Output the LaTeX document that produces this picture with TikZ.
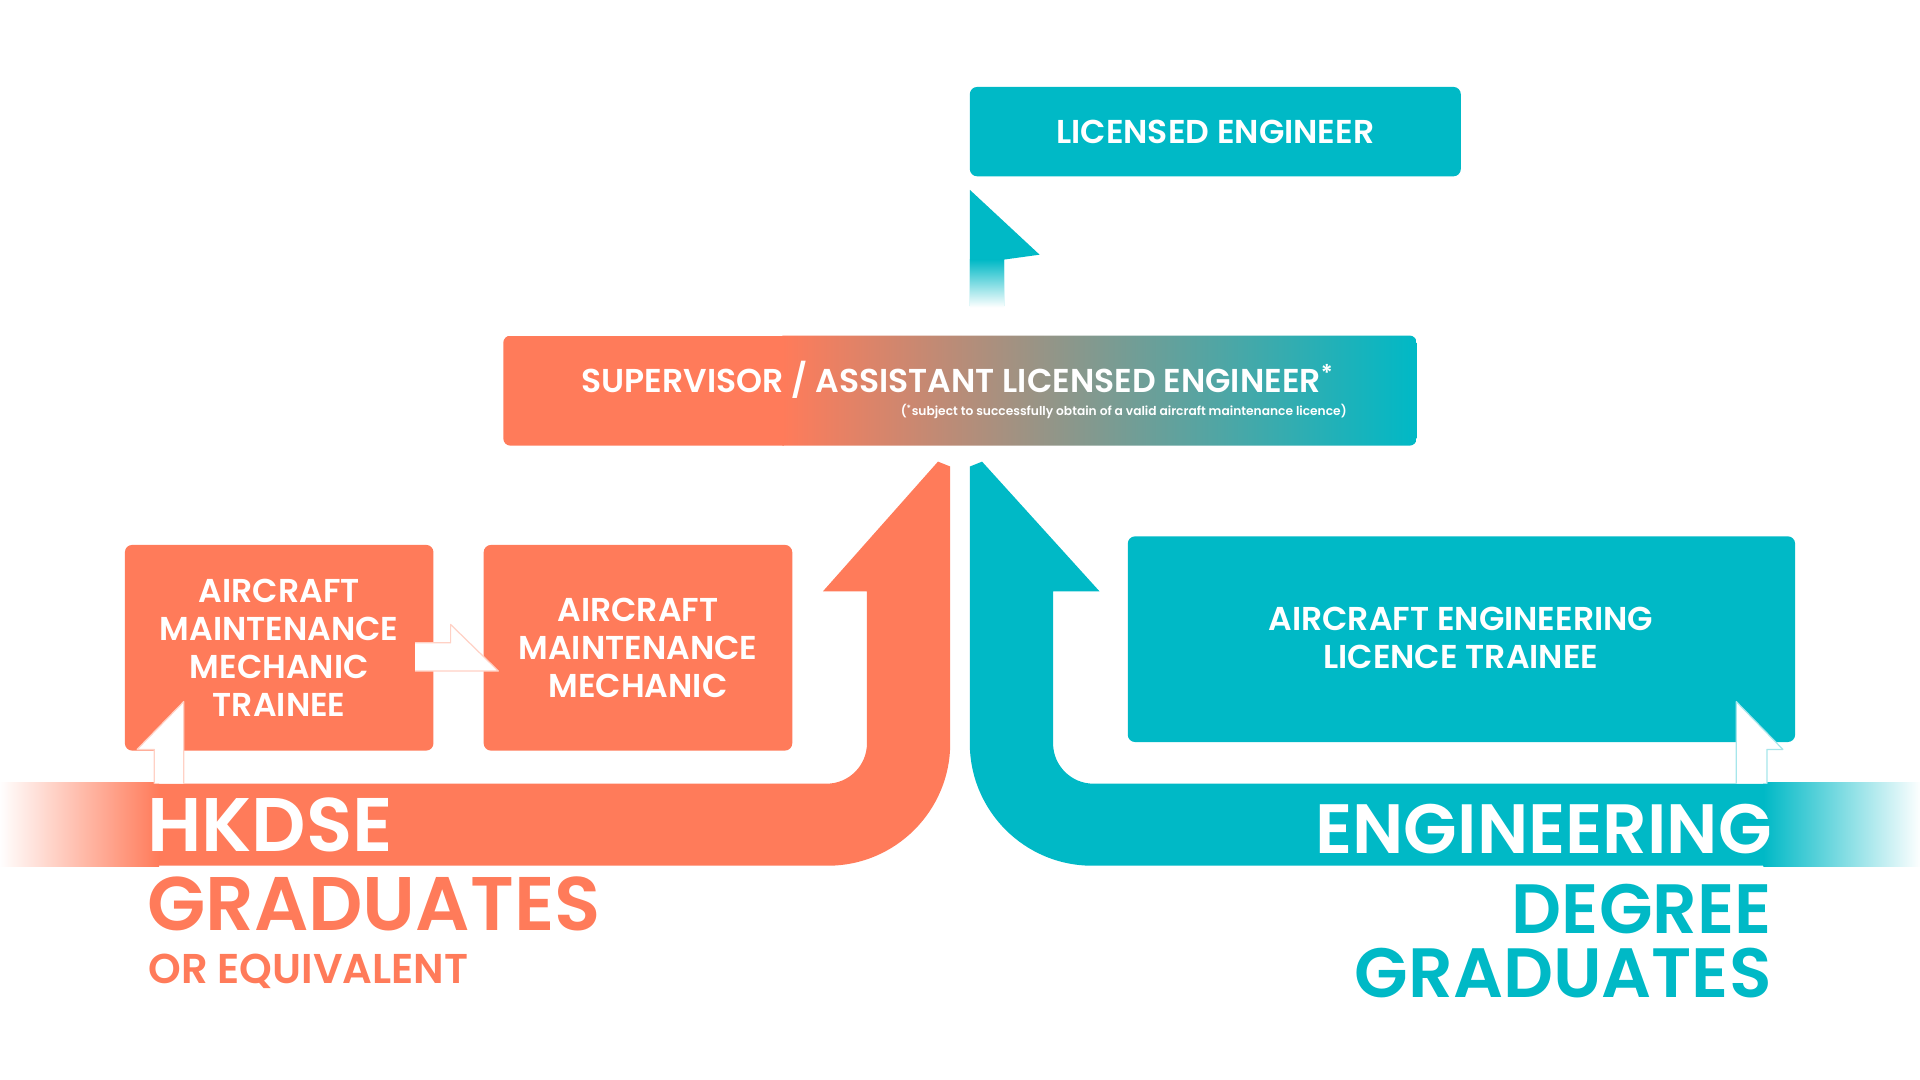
\documentclass[tikz,border=0pt]{standalone}
\usepackage{fontspec}
\usepackage{xcolor}
\usepackage{tikz}
\setmainfont{Poppins}[BoldFont={Poppins SemiBold}]
\definecolor{coral}{RGB}{255,123,90}
\definecolor{lagoon}{RGB}{0,185,198}

\begin{document}
\begin{tikzpicture}[x=1pt,y=-1pt,
    box/.style={rounded corners=6pt},
    boxtext/.style={text=white,font=\fontsize{27}{31}\selectfont\bfseries,align=center},
    big/.style={font=\fontsize{62}{62}\selectfont\bfseries},
    bigright/.style={font=\fontsize{57}{57}\selectfont\bfseries,anchor=base east,inner sep=0},
    step arrow/.style={fill=white,draw=#1!35,line width=1pt,line join=round}]
    \useasboundingbox (0,0) rectangle (1568,882);

    % Licensed engineer box and the small rising arrow
    \fill [lagoon,box] (792,71) rectangle (1193,144);
    \node[boxtext] (licensed) at (992.5,108) {LICENSED ENGINEER};
    \fill [lagoon] (792,250) -- (792,155) -- (849,208) -- (820,212) -- (820,250) -- cycle;
    \shade [top color=lagoon,bottom color=white] (792,212) rectangle (820,251);

    % Supervisor box with coral to lagoon blend
    \begin{scope}
        \clip [box] (411,274) rectangle (1157,364);
        \fill [coral] (411,274) rectangle (640,364);
        \shade [left color=coral,right color=lagoon] (639,274) rectangle (1157,364);
    \end{scope}
    \node[boxtext] (supervisor) at (782,310) {SUPERVISOR / ASSISTANT LICENSED ENGINEER\textsuperscript{*}};
    \node[text=white,font=\fontsize{10}{10}\selectfont\bfseries,anchor=east,inner sep=1pt] (note) at (1101,336)
        {(\textsuperscript{*}subject to successfully obtain of a valid aircraft maintenance licence)};

    % Coral path arrow
    \fill [coral] (0,640) -- (675,640) arc (90:0:33) -- (708,483) -- (672,483)
        -- (766,377) -- (776,381) -- (776,607) arc (0:90:100) -- (0,707) -- cycle;
    \shade [left color=white,right color=coral] (-1,639) rectangle (130,708);

    % Lagoon path arrow
    \fill [lagoon] (1568,640) -- (893,640) arc (90:180:33) -- (860,483) -- (898,483)
        -- (802,377) -- (792,381) -- (792,607) arc (180:90:100) -- (1568,707) -- cycle;
    \shade [left color=lagoon,right color=white] (1440,639) rectangle (1569,708);

    % Coral boxes
    \fill [coral,box] (102,445) rectangle (354,613);
    \node[boxtext] (trainee) at (228,529) {AIRCRAFT\\MAINTENANCE\\MECHANIC\\TRAINEE};
    \fill [coral,box] (395,445) rectangle (647,613);
    \node[boxtext] (mechanic) at (521,529) {AIRCRAFT\\MAINTENANCE\\MECHANIC};

    % Lagoon box
    \fill [lagoon,box] (921,438) rectangle (1466,606);
    \node[boxtext] (licencetrainee) at (1193,521) {AIRCRAFT ENGINEERING\\LICENCE TRAINEE};

    % White step arrows
    \filldraw [step arrow=coral] (126,640) -- (126,612) -- (112,612) -- (150,573) -- (150,640);
    \filldraw [step arrow=coral] (339,525) -- (368,525) -- (368,510) -- (407,548) -- (339,548);
    \filldraw [step arrow=lagoon] (1443,640) -- (1443,612) -- (1456,612) -- (1418,573) -- (1418,640);

    % Entry labels
    \node[big,text=white,anchor=base west,inner sep=0] (hkdse) at (120,695) {HKDSE};
    \node[big,text=coral,anchor=base west,inner sep=0] (gradleft) at (120,760) {GRADUATES};
    \node[font=\fontsize{34}{34}\selectfont\bfseries,text=coral,anchor=base west,inner sep=0] (equiv) at (121,803) {OR EQUIVALENT};
    \node[bigright,text=white] (engineering) at (1447,697) {ENGINEERING};
    \node[bigright,text=lagoon] (degree) at (1447,762) {DEGREE};
    \node[bigright,text=lagoon] (gradright) at (1447,815) {GRADUATES};
\end{tikzpicture}
\end{document}
